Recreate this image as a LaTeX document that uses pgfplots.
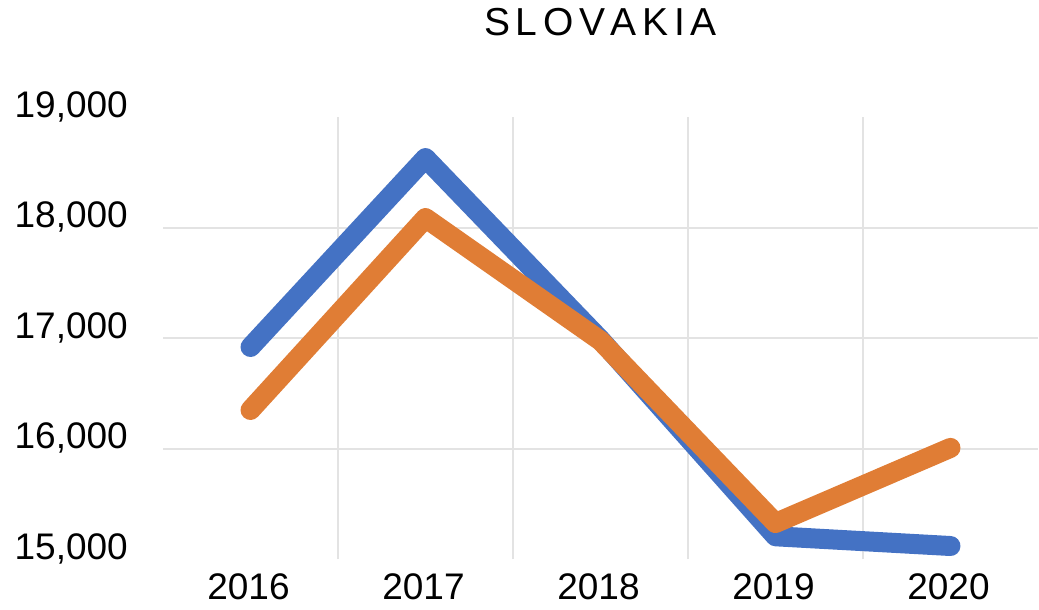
\documentclass[border=0pt]{standalone}
\usepackage{pgfplots}
\pgfplotsset{compat=1.18}
\usepackage{fontspec}
\setmainfont{Liberation Sans}
\definecolor{xlblue}{HTML}{4472C4}
\definecolor{xlorange}{HTML}{E07D35}
\definecolor{gridgray}{HTML}{E3E3E3}
\newcommand{\g}{\hspace{5.7pt}}
\begin{document}
\begin{tikzpicture}
\useasboundingbox (-163pt,-50.5pt) rectangle (876pt,559.5pt);
\begin{axis}[
  at={(0pt,0pt)}, anchor=south west,
  scale only axis, width=875pt, height=442pt,
  xmin=-0.5, xmax=4.5, ymin=15000, ymax=19000,
  scaled y ticks=false, scaled x ticks=false,
  axis lines*=left, axis line style={draw=none},
  xtick={0,1,2,3,4}, xticklabels={2016,2017,2018,2019,2020},
  minor xtick={0.5,1.5,2.5,3.5},
  xminorgrids,
  ytick={16000,17000,18000},
  yticklabels={{16,000},{17,000},{18,000}},
  ymajorgrids,
  extra y ticks={15000,19000},
  extra y tick labels={{15,000},{19,000}},
  extra y tick style={grid=none},
  major tick length=0pt, minor tick length=0pt,
  tick label style={font=\fontsize{37}{44}\selectfont, inner sep=0pt},
  yticklabel style={anchor=base east, xshift=-35pt},
  xticklabel style={anchor=base, yshift=-40.5pt, xshift=-2pt},
  grid style={gridgray, line width=2pt},
  minor grid style={gridgray, line width=2pt},
  title={S\g L\g O\g V\g A\g K\g I\g A},
  title style={at={(0.5,1)}, anchor=center, yshift=89.5pt, inner sep=0pt,
    font=\fontsize{39}{46}\selectfont},
  clip=false,
]
\addplot[xlblue, line width=20pt, line cap=round, line join=round] coordinates {
  (0,16923) (1,18633) (2,16990) (3,15210) (4,15122)
};
\addplot[xlorange, line width=20pt, line cap=round, line join=round] coordinates {
  (0,16353) (1,18090) (2,16980) (3,15330) (4,16010)
};
\end{axis}
\end{tikzpicture}
\end{document}
